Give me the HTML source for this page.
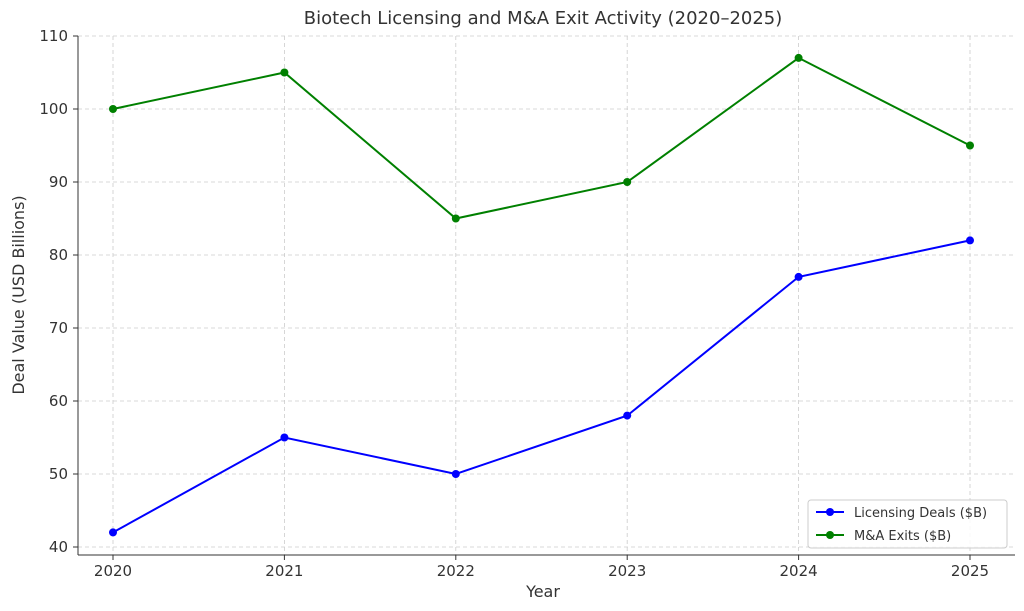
<!DOCTYPE html>
<html><head><meta charset="utf-8"><style>body{margin:0;background:#fff}svg{display:block}text{font-family:"DejaVu Sans","Liberation Sans",sans-serif;fill:#333}</style></head><body>
<svg width="1024" height="611" viewBox="0 0 1024 611">
<g stroke="#ccc" stroke-dasharray="4,3" stroke-width="0.8">
<line x1="113" y1="36" x2="113" y2="555"/><line x1="284.4" y1="36" x2="284.4" y2="555"/><line x1="455.8" y1="36" x2="455.8" y2="555"/><line x1="627.2" y1="36" x2="627.2" y2="555"/><line x1="798.6" y1="36" x2="798.6" y2="555"/><line x1="970" y1="36" x2="970" y2="555"/>
<line x1="78" y1="36" x2="1015" y2="36"/><line x1="78" y1="109" x2="1015" y2="109"/><line x1="78" y1="182" x2="1015" y2="182"/><line x1="78" y1="255" x2="1015" y2="255"/><line x1="78" y1="328" x2="1015" y2="328"/><line x1="78" y1="401" x2="1015" y2="401"/><line x1="78" y1="474" x2="1015" y2="474"/><line x1="78" y1="547" x2="1015" y2="547"/>
</g>
<g stroke="#333" stroke-width="1">
<line x1="78" y1="36" x2="78" y2="555"/><line x1="78" y1="555" x2="1015" y2="555"/>
<line x1="73" y1="36" x2="78" y2="36"/><line x1="73" y1="109" x2="78" y2="109"/><line x1="73" y1="182" x2="78" y2="182"/><line x1="73" y1="255" x2="78" y2="255"/><line x1="73" y1="328" x2="78" y2="328"/><line x1="73" y1="401" x2="78" y2="401"/><line x1="73" y1="474" x2="78" y2="474"/><line x1="73" y1="547" x2="78" y2="547"/>
<line x1="113" y1="555" x2="113" y2="560"/><line x1="284.4" y1="555" x2="284.4" y2="560"/><line x1="455.8" y1="555" x2="455.8" y2="560"/><line x1="627.2" y1="555" x2="627.2" y2="560"/><line x1="798.6" y1="555" x2="798.6" y2="560"/><line x1="970" y1="555" x2="970" y2="560"/>
</g>
<g font-size="15" text-anchor="end">
<text x="68" y="41">110</text><text x="68" y="114">100</text><text x="68" y="187">90</text><text x="68" y="260">80</text><text x="68" y="333">70</text><text x="68" y="406">60</text><text x="68" y="479">50</text><text x="68" y="552">40</text>
</g>
<g font-size="15" text-anchor="middle">
<text x="113" y="576">2020</text><text x="284.4" y="576">2021</text><text x="455.8" y="576">2022</text><text x="627.2" y="576">2023</text><text x="798.6" y="576">2024</text><text x="970" y="576">2025</text>
<text x="543" y="597" font-size="16">Year</text>
<text x="543" y="24" font-size="18">Biotech Licensing and M&amp;A Exit Activity (2020–2025)</text>
<text transform="translate(24,295) rotate(-90)" font-size="16">Deal Value (USD Billions)</text>
</g>
<polyline fill="none" stroke="#0000ff" stroke-width="2" points="113,532.4 284.4,437.5 455.8,474 627.2,415.6 798.6,276.9 970,240.4"/>
<polyline fill="none" stroke="#008000" stroke-width="2" points="113,109 284.4,72.5 455.8,218.5 627.2,182 798.6,57.9 970,145.5"/>
<g fill="#0000ff"><circle cx="113" cy="532.4" r="4"/><circle cx="284.4" cy="437.5" r="4"/><circle cx="455.8" cy="474" r="4"/><circle cx="627.2" cy="415.6" r="4"/><circle cx="798.6" cy="276.9" r="4"/><circle cx="970" cy="240.4" r="4"/></g>
<g fill="#008000"><circle cx="113" cy="109" r="4"/><circle cx="284.4" cy="72.5" r="4"/><circle cx="455.8" cy="218.5" r="4"/><circle cx="627.2" cy="182" r="4"/><circle cx="798.6" cy="57.9" r="4"/><circle cx="970" cy="145.5" r="4"/></g>
<rect x="808" y="500" width="199" height="48" rx="3" fill="#fff" fill-opacity="0.85" stroke="#ccc"/>
<line x1="816" y1="512" x2="844" y2="512" stroke="#0000ff" stroke-width="2"/><circle cx="830" cy="512" r="4" fill="#0000ff"/>
<line x1="816" y1="535" x2="844" y2="535" stroke="#008000" stroke-width="2"/><circle cx="830" cy="535" r="4" fill="#008000"/>
<text x="854" y="517" font-size="13">Licensing Deals ($B)</text>
<text x="854" y="540" font-size="13">M&amp;A Exits ($B)</text>
</svg>
</body></html>
